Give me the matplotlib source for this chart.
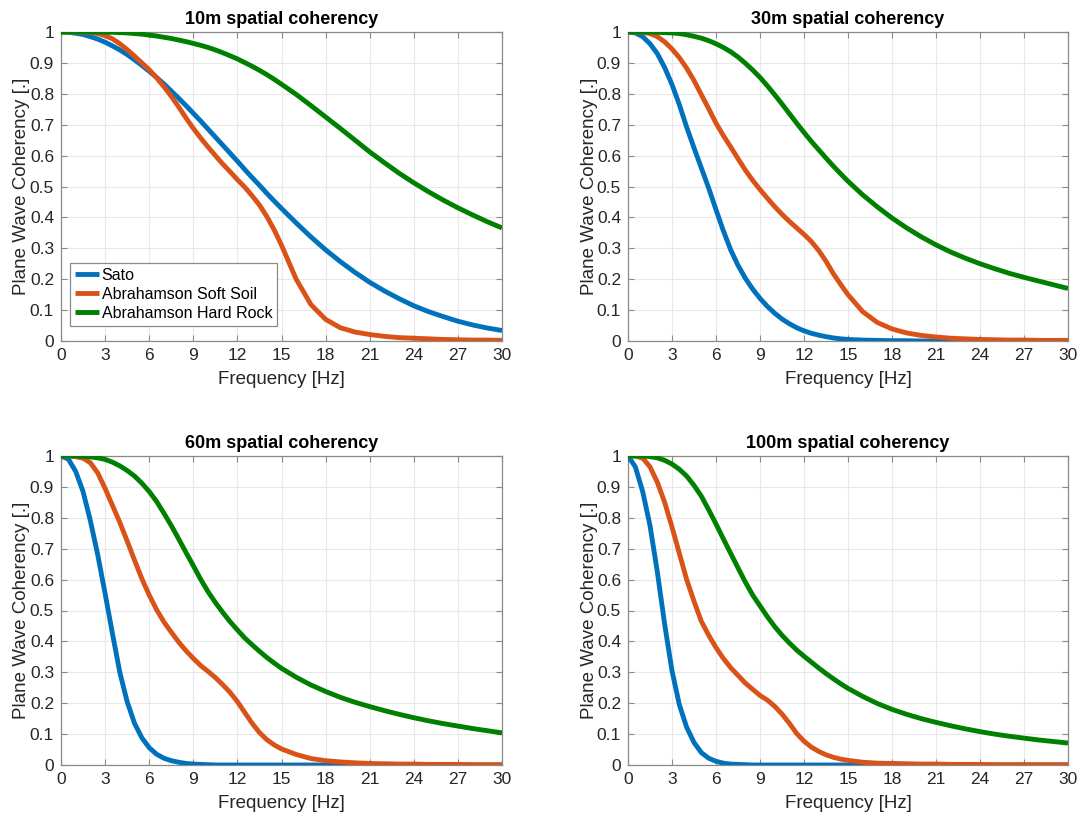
import matplotlib
matplotlib.use("Agg")
import matplotlib.pyplot as plt

plt.rcParams['font.family'] = ['Liberation Sans', 'DejaVu Sans']

freq = [0, 0.5, 1, 1.5, 2, 2.5, 3, 3.5, 4, 4.5, 5, 5.5, 6, 6.5, 7, 7.5, 8, 8.5, 9, 9.5,
        10, 10.5, 11, 11.5, 12, 12.5, 13, 13.5, 14, 14.5, 15,
        16, 17, 18, 19, 20, 21, 22, 23, 24, 25, 26, 27, 28, 29, 30]

titles = ["10m spatial coherency", "30m spatial coherency",
          "60m spatial coherency", "100m spatial coherency"]
series_names = ["Sato", "Abrahamson Soft Soil", "Abrahamson Hard Rock"]

sato_10 = [1.000, 0.999, 0.996, 0.992, 0.985, 0.977, 0.967, 0.955, 0.942, 0.927, 0.910, 0.892,
           0.873, 0.853, 0.832, 0.809, 0.786, 0.762, 0.737, 0.712, 0.686, 0.660, 0.634, 0.608,
           0.582, 0.555, 0.529, 0.504, 0.478, 0.453, 0.429,
           0.382, 0.337, 0.295, 0.257, 0.222, 0.190, 0.162, 0.137, 0.114, 0.095, 0.079, 0.064,
           0.052, 0.042, 0.034]
soft_10 = [1.000, 1.000, 1.000, 0.999, 0.998, 0.995, 0.988, 0.978, 0.962, 0.943, 0.922, 0.900,
           0.878, 0.852, 0.823, 0.792, 0.758, 0.722, 0.688, 0.657, 0.628, 0.600, 0.573, 0.548,
           0.522, 0.498, 0.470, 0.440, 0.403, 0.360, 0.310,
           0.200, 0.118, 0.070, 0.043, 0.029, 0.021, 0.015, 0.011, 0.009, 0.007, 0.005, 0.004,
           0.003, 0.003, 0.002]
hard_10 = [1.000, 1.000, 1.000, 1.000, 1.000, 1.000, 0.999, 0.999, 0.998, 0.997, 0.995, 0.993,
           0.990, 0.987, 0.983, 0.979, 0.974, 0.969, 0.963, 0.957, 0.950, 0.942, 0.933, 0.923,
           0.913, 0.901, 0.889, 0.876, 0.862, 0.847, 0.831,
           0.798, 0.762, 0.725, 0.688, 0.650, 0.612, 0.577, 0.543, 0.512, 0.483, 0.456, 0.431,
           0.408, 0.386, 0.366]

sato_30 = [1.000, 0.997, 0.985, 0.962, 0.930, 0.885, 0.830, 0.765, 0.692, 0.625, 0.560, 0.495,
           0.425, 0.357, 0.295, 0.245, 0.203, 0.168, 0.138, 0.112, 0.090, 0.071, 0.056, 0.043,
           0.033, 0.025, 0.019, 0.014, 0.010, 0.007, 0.005,
           0.003, 0.002, 0.001, 0.001, 0.000, 0.000, 0.000, 0.000, 0.000, 0.000, 0.000, 0.000,
           0.000, 0.000, 0.000]
soft_30 = [1.000, 1.000, 0.999, 0.995, 0.985, 0.968, 0.945, 0.917, 0.883, 0.843, 0.797, 0.752,
           0.705, 0.665, 0.628, 0.590, 0.553, 0.520, 0.490, 0.462, 0.435, 0.410, 0.387, 0.366,
           0.345, 0.322, 0.293, 0.258, 0.218, 0.183, 0.150,
           0.095, 0.060, 0.039, 0.026, 0.018, 0.013, 0.009, 0.007, 0.005, 0.004, 0.003, 0.003,
           0.002, 0.002, 0.002]
hard_30 = [1.000, 1.000, 1.000, 1.000, 0.999, 0.998, 0.997, 0.995, 0.991, 0.986, 0.980, 0.972,
           0.962, 0.950, 0.936, 0.919, 0.899, 0.877, 0.853, 0.826, 0.797, 0.767, 0.736, 0.705,
           0.675, 0.646, 0.619, 0.592, 0.566, 0.541, 0.517,
           0.473, 0.434, 0.398, 0.366, 0.337, 0.311, 0.288, 0.268, 0.250, 0.234, 0.219, 0.206,
           0.194, 0.182, 0.170]

sato_60 = [1.000, 0.990, 0.950, 0.885, 0.790, 0.680, 0.555, 0.425, 0.300, 0.205, 0.135, 0.088,
           0.056, 0.035, 0.022, 0.014, 0.009, 0.005, 0.003, 0.002, 0.001, 0.000, 0.000, 0.000,
           0.000, 0.000, 0.000, 0.000, 0.000, 0.000, 0.000,
           0.000, 0.000, 0.000, 0.000, 0.000, 0.000, 0.000, 0.000, 0.000, 0.000, 0.000, 0.000,
           0.000, 0.000, 0.000]
soft_60 = [1.000, 1.000, 0.998, 0.993, 0.978, 0.945, 0.895, 0.840, 0.785, 0.725, 0.663, 0.603,
           0.550, 0.503, 0.463, 0.430, 0.398, 0.370, 0.345, 0.322, 0.303, 0.283, 0.260, 0.235,
           0.205, 0.170, 0.135, 0.105, 0.082, 0.065, 0.052,
           0.034, 0.021, 0.014, 0.010, 0.007, 0.005, 0.004, 0.003, 0.003, 0.002, 0.002, 0.002,
           0.001, 0.001, 0.001]
hard_60 = [1.000, 1.000, 1.000, 0.999, 0.997, 0.994, 0.989, 0.980, 0.968, 0.953, 0.935, 0.912,
           0.885, 0.853, 0.815, 0.775, 0.732, 0.688, 0.645, 0.601, 0.561, 0.526, 0.494, 0.464,
           0.437, 0.411, 0.389, 0.368, 0.348, 0.330, 0.313,
           0.284, 0.259, 0.238, 0.219, 0.203, 0.189, 0.176, 0.164, 0.153, 0.143, 0.134, 0.126,
           0.118, 0.111, 0.104]

sato_100 = [1.000, 0.965, 0.885, 0.775, 0.625, 0.455, 0.305, 0.195, 0.122, 0.073, 0.040, 0.022,
            0.012, 0.006, 0.003, 0.002, 0.001, 0.000, 0.000, 0.000, 0.000, 0.000, 0.000, 0.000,
            0.000, 0.000, 0.000, 0.000, 0.000, 0.000, 0.000,
            0.000, 0.000, 0.000, 0.000, 0.000, 0.000, 0.000, 0.000, 0.000, 0.000, 0.000, 0.000,
            0.000, 0.000, 0.000]
soft_100 = [1.000, 1.000, 0.993, 0.965, 0.915, 0.850, 0.770, 0.685, 0.600, 0.530, 0.465, 0.420,
            0.380, 0.345, 0.315, 0.290, 0.265, 0.245, 0.225, 0.210, 0.190, 0.165, 0.135, 0.102,
            0.077, 0.058, 0.044, 0.033, 0.025, 0.019, 0.015,
            0.009, 0.006, 0.005, 0.004, 0.003, 0.003, 0.002, 0.002, 0.002, 0.001, 0.001, 0.001,
            0.001, 0.001, 0.001]
hard_100 = [1.000, 1.000, 1.000, 0.998, 0.994, 0.986, 0.974, 0.957, 0.935, 0.905, 0.870, 0.826,
            0.780, 0.732, 0.685, 0.638, 0.592, 0.550, 0.515, 0.480, 0.448, 0.420, 0.395, 0.372,
            0.352, 0.333, 0.314, 0.296, 0.279, 0.263, 0.248,
            0.222, 0.199, 0.180, 0.164, 0.150, 0.138, 0.127, 0.117, 0.108, 0.100, 0.093, 0.087,
            0.081, 0.076, 0.071]

xticks = [0, 3, 6, 9, 12, 15, 18, 21, 24, 27, 30]
yticks = [0, 0.1, 0.2, 0.3, 0.4, 0.5, 0.6, 0.7, 0.8, 0.9, 1]
ytick_labels = ["0", "0.1", "0.2", "0.3", "0.4", "0.5", "0.6", "0.7", "0.8", "0.9", "1"]

colors = ["#0072BD", "#D95319", "#008000"]
panels = [(sato_10, soft_10, hard_10), (sato_30, soft_30, hard_30),
          (sato_60, soft_60, hard_60), (sato_100, soft_100, hard_100)]

W, H = 1081, 816
fig = plt.figure(figsize=(W / 100, H / 100), dpi=100)
boxes = [(61, 32, 502, 341), (628, 32, 1068, 341),
         (61, 456, 502, 765), (628, 456, 1068, 765)]

for i, (box, data, title) in enumerate(zip(boxes, panels, titles)):
    l, t, r, b = box
    ax = fig.add_axes([l / W, 1 - b / H, (r - l) / W, (b - t) / H])
    for j, (vals, c, name) in enumerate(zip(data, colors, series_names)):
        ax.plot(freq, vals, color=c, lw=3.5, label=name, solid_capstyle='butt',
                solid_joinstyle='round', zorder=3 + j)
    ax.set_xlim(0, 30)
    ax.set_ylim(0, 1)
    ax.set_xticks(xticks)
    ax.set_xticklabels([str(v) for v in xticks])
    ax.set_yticks(yticks)
    ax.set_yticklabels(ytick_labels)
    ax.grid(True, color='#e8e8e8', lw=0.8, zorder=0)
    ax.set_axisbelow(True)
    for s in ax.spines.values():
        s.set_color('#8a8a8a')
        s.set_linewidth(0.9)
    ax.tick_params(direction='in', top=True, right=True, length=4, width=0.8,
                   color='#8a8a8a', labelsize=12.5, labelcolor='#262626', pad=5)
    ax.set_xlabel("Frequency [Hz]", fontsize=13.5, color='#262626', labelpad=6)
    ax.set_ylabel("Plane Wave Coherency [.]", fontsize=13.5, color='#262626', labelpad=-0.5)
    ax.set_title(title, fontsize=13, fontweight='bold', pad=6)
    if i == 0:
        leg = ax.legend(loc='lower left', bbox_to_anchor=(0.02, 0.05), borderaxespad=0,
                        fontsize=11.5, fancybox=False, framealpha=1, edgecolor='#8a8a8a',
                        handlelength=1.5, handletextpad=0.2, labelspacing=0.25,
                        borderpad=0.3)
        leg.get_frame().set_linewidth(0.9)

fig.savefig("out.png", dpi=100)
